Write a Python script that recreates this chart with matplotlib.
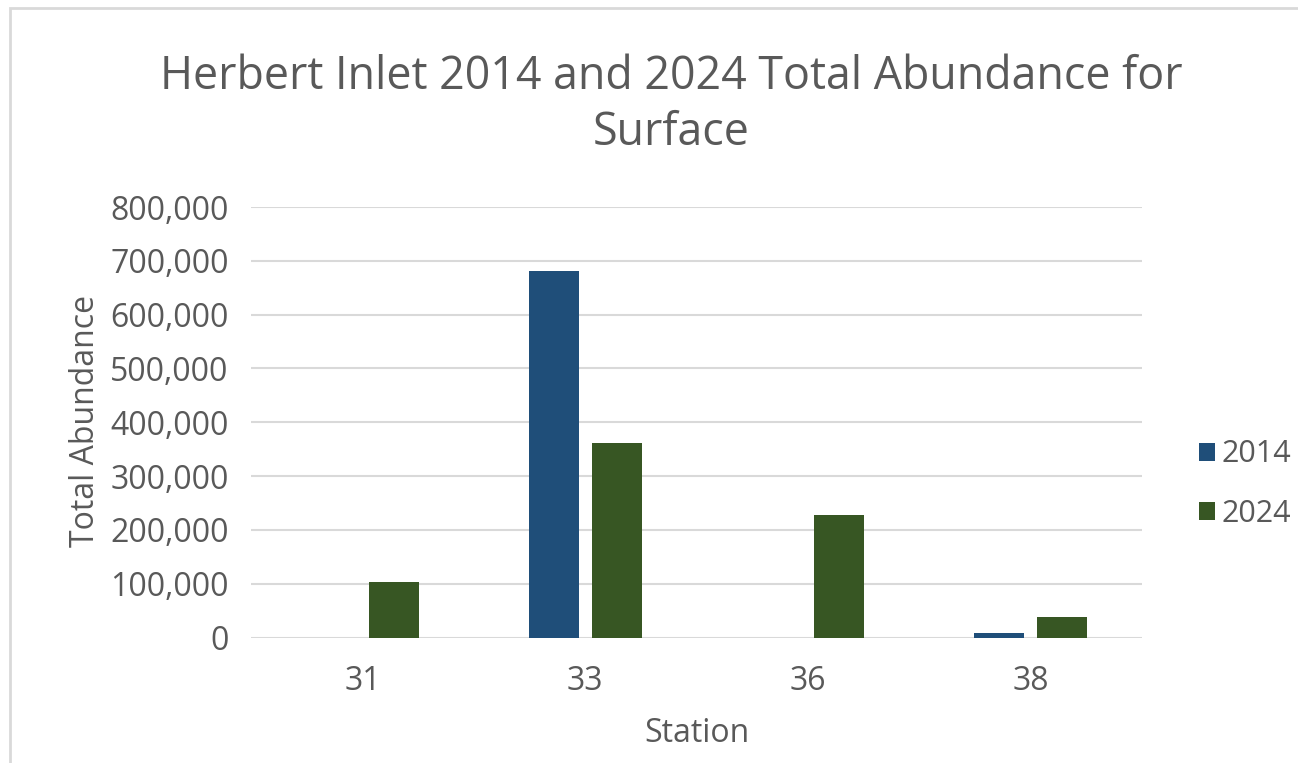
import numpy as np
import matplotlib.pyplot as plt
from matplotlib.patches import Rectangle

# values
stations = ['31', '33', '36', '38']
abund_2014 = [0, 681000, 0, 7800]
abund_2024 = [103700, 361500, 227700, 37500]

W, H = 1298, 763
fig = plt.figure(figsize=(W / 100, H / 100), dpi=100)
plt.rcParams['font.family'] = ['Open Sans', 'DejaVu Sans']
grey = '#595959'

# outer chart border (only top and left visible in the crop)
fig.patches.append(Rectangle((10 / W, -0.1), 1.2, 1 - 8 / H + 0.1,
                             transform=fig.transFigure, fill=False,
                             edgecolor='#D9D9D9', linewidth=2))

ax = fig.add_axes([251 / W, 1 - 637.5 / H, (1142 - 251) / W, (637.5 - 207) / H])

x = np.arange(len(stations))
bw = 0.2245
off = (bw + 0.058) / 2
ax.bar(x - off, abund_2014, bw, color='#1F4E79', label='2014', zorder=3)
ax.bar(x + off, abund_2024, bw, color='#375623', label='2024', zorder=3)

ax.set_xlim(-0.5, 3.5)
ax.set_ylim(0, 800000)
ax.set_yticks(np.arange(0, 800001, 100000))
ax.set_yticklabels([f'{v:,}' for v in range(0, 800001, 100000)])
ax.set_xticks(x)
ax.set_xticklabels(stations)
ax.yaxis.grid(True, color='#D9D9D9', linewidth=1.5, zorder=0)
for s in ax.spines.values():
    s.set_visible(False)
ax.tick_params(length=0, labelsize=23, labelcolor=grey)
ax.tick_params(axis='y', pad=16)
ax.tick_params(axis='x', pad=20)

ax.set_ylabel('Total Abundance', fontsize=23, color=grey, va='center')
ax.yaxis.set_label_coords((85 - 251) / 891, (637.5 - 421) / 430.5)
ax.set_xlabel('Station', fontsize=23, color=grey, va='center')
ax.xaxis.set_label_coords(0.5, (637.5 - 734) / 430.5)

fig.text(671 / W, 1 - 77 / H, 'Herbert Inlet 2014 and 2024 Total Abundance for',
         ha='center', va='center', fontsize=32.2, color=grey)
fig.text(671 / W, 1 - 133 / H, 'Surface',
         ha='center', va='center', fontsize=32.2, color=grey)

ax.legend(loc='center left', bbox_to_anchor=(1199 / W, 1 - 484 / H),
          bbox_transform=fig.transFigure, frameon=False, fontsize=22,
          labelcolor=grey, handlelength=0.52, handleheight=0.52,
          handletextpad=0.23, labelspacing=0.95, borderpad=0,
          borderaxespad=0)

fig.savefig('out.png', dpi=100)
